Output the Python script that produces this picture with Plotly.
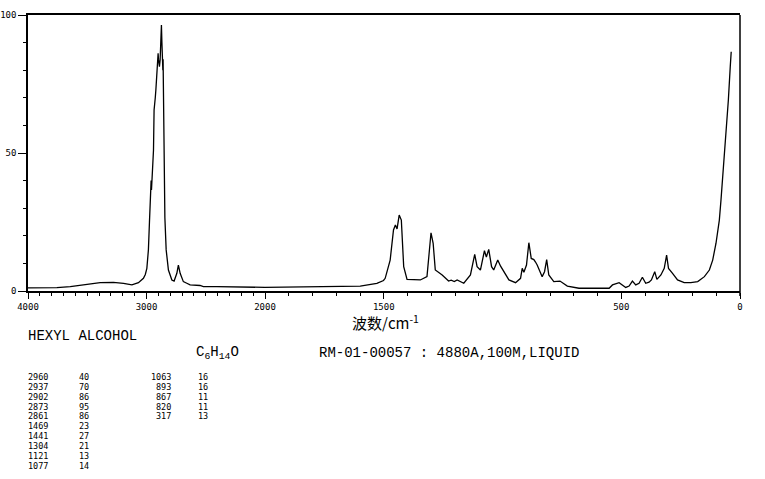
import plotly.graph_objects as go

# ---- spectrum values (wavenumber cm-1, intensity %) ----
wavenumber = [4000, 3756, 3643, 3503, 3391, 3279, 3194, 3123, 3068, 3026, 3010, 2997, 2984,
              2975, 2969, 2965, 2961, 2958, 2955, 2950, 2941, 2936, 2933, 2930, 2926, 2921,
              2913, 2908, 2902, 2899, 2891, 2885, 2879, 2874, 2870, 2868, 2865, 2862, 2860,
              2857, 2851, 2845, 2834, 2815, 2786, 2767, 2744, 2731, 2716, 2689, 2660, 2632,
              2548, 2520, 2407, 2211, 2042, 2000,
              1712, 1599, 1529, 1501, 1494, 1473, 1459, 1451, 1444, 1440, 1435, 1426, 1416,
              1402, 1346, 1318, 1307, 1301, 1292, 1283, 1254, 1227, 1216, 1203, 1191, 1163,
              1135, 1117, 1107, 1093, 1076, 1068, 1058, 1046, 1037, 1020, 1008, 997, 973,
              945, 924, 917, 910, 899, 889, 879, 868, 861, 854, 833, 823, 814, 805, 784, 758,
              727, 678, 551, 537, 509, 481, 467, 453, 439, 425, 411, 397, 383, 373, 359, 350,
              333, 319, 309, 301, 284, 263, 235, 207, 178, 150, 129, 115, 101, 87, 80, 69,
              59, 49, 41, 37]
intensity = [1.1, 1.2, 1.6, 2.3, 3.0, 3.1, 2.8, 2.2, 3.0, 4.6, 6.0, 8.2, 14.9,
             25.0, 33.0, 36.0, 40.0, 36.6, 39.0, 45.0, 51.0, 65.6, 69.0, 67.4, 70.0, 72.8,
             80.0, 82.4, 86.1, 84.0, 81.3, 83.7, 89.7, 96.4, 90.0, 88.5, 82.0, 80.0, 84.0,
             70.4, 41.4, 26.6, 14.9, 7.6, 4.0, 3.6, 6.4, 9.4, 6.4, 3.4, 2.8, 2.2,
             2.0, 1.6, 1.6, 1.5, 1.3, 1.3,
             1.8, 1.8, 2.8, 3.8, 4.6, 11.2, 22.1, 23.9, 22.5, 25.7, 27.5, 25.7, 8.8,
             4.2, 4.0, 5.2, 14.9, 21.1, 17.3, 7.6, 5.8, 3.6, 3.9, 3.4, 4.0, 2.8,
             5.8, 13.3, 8.8, 7.6, 14.6, 12.3, 15.1, 8.8, 7.6, 11.2, 9.0, 7.4, 4.0,
             3.0, 4.6, 8.2, 6.8, 9.4, 17.5, 11.8, 11.4, 10.5, 9.4, 5.2, 7.0, 11.4, 5.8, 3.4, 3.6,
             1.8, 1.0, 1.0, 2.2, 3.0, 1.3, 1.8, 3.6, 2.2, 2.8, 5.0, 2.8, 3.2, 4.0, 7.0, 4.2,
             5.8, 8.2, 13.0, 8.2, 6.4, 4.0, 3.0, 3.0, 3.4, 5.2, 7.6, 11.2, 17.3, 25.7, 33.0, 45.0,
             57.1, 69.2, 81.3, 86.7]

# ---- axis ticks ----
x_hi_ticks = [4000, 3000, 2000]
x_lo_ticks = [1500, 500, 0]
y_ticks = [0, 50, 100]

# ---- peak table ----
peak_wn_1 = [2960, 2937, 2902, 2873, 2861, 1469, 1441, 1304, 1121, 1077]
peak_int_1 = [40, 70, 86, 95, 86, 23, 27, 21, 13, 14]
peak_wn_2 = [1063, 893, 867, 820, 317]
peak_int_2 = [16, 16, 11, 11, 13]

compound = "HEXYL ALCOHOL"
formula = "C<sub>6</sub>H<sub>14</sub>O"
info = "RM-01-00057 : 4880A,100M,LIQUID"
x_title = "波数/cm<sup>-1</sup>"

# ---- geometry (pixels) ----
W, H = 765, 479
L, R, T, B = 28, 740, 15, 291
split = 265  # pixel where 2000 cm-1 sits (scale change)
dom_split = (split - L) / (R - L)


def px(x):
    return (x - L) / (R - L)


def py(y):
    return (B - y) / (B - T)


hi_x = [w for w in wavenumber if w >= 2000]
hi_y = [v for w, v in zip(wavenumber, intensity) if w >= 2000]
lo_x = [w for w in wavenumber if w <= 2000]
lo_y = [v for w, v in zip(wavenumber, intensity) if w <= 2000]

fig = go.Figure()
line = dict(color="black", width=1.3)
fig.add_trace(go.Scatter(x=hi_x, y=hi_y, mode="lines", line=line, xaxis="x", yaxis="y",
                         showlegend=False, hoverinfo="skip", cliponaxis=False))
fig.add_trace(go.Scatter(x=lo_x, y=lo_y, mode="lines", line=line, xaxis="x2", yaxis="y",
                         showlegend=False, hoverinfo="skip", cliponaxis=False))

tickfont = dict(family="DejaVu Sans Mono", size=9, color="black")
common_x = dict(showgrid=False, zeroline=False, showline=True, linecolor="black", linewidth=1.5,
                mirror=True, ticks="outside", ticklen=6, tickwidth=1.2, tickcolor="black",
                tickfont=tickfont, anchor="y", automargin=False,
                minor=dict(dtick=100, ticks="outside", ticklen=3, tickwidth=1, tickcolor="black"))

fig.update_layout(
    width=W, height=H,
    margin=dict(l=L, r=W - R, t=T, b=H - B, pad=0),
    paper_bgcolor="white", plot_bgcolor="white",
    xaxis=dict(domain=[0, dom_split], range=[4000, 2000], tickvals=x_hi_ticks,
               ticktext=[str(t) for t in x_hi_ticks], tick0=4000, **common_x),
    xaxis2=dict(domain=[dom_split, 1], range=[2000, 0], tickvals=x_lo_ticks,
                ticktext=[str(t) for t in x_lo_ticks], tick0=2000, **common_x),
    yaxis=dict(range=[0, 100], tickvals=y_ticks, ticktext=[str(t) for t in y_ticks],
               showgrid=False, zeroline=False, showline=True, linecolor="black", linewidth=1.5,
               ticks="outside", ticklen=8, tickwidth=1.2, tickcolor="black", tickfont=tickfont,
               anchor="x", automargin=False,
               minor=dict(dtick=10, ticks="outside", ticklen=3, tickwidth=1, tickcolor="black")),
)

# right border of the frame
fig.add_shape(type="line", xref="paper", yref="paper", x0=1, x1=1, y0=py(296), y1=1,
              line=dict(color="black", width=1.5))

ann = []
ann.append(dict(text=x_title, x=px(386), y=py(322), xanchor="center", yanchor="middle",
                font=dict(family="Noto Sans CJK SC", size=15, color="black")))
hdr = dict(family="Liberation Mono", size=14, color="black")
ann.append(dict(text=compound, x=px(26), y=py(336), xanchor="left", yanchor="middle", font=hdr))
ann.append(dict(text=formula, x=px(194), y=py(353), xanchor="left", yanchor="middle", font=hdr))
ann.append(dict(text=info, x=px(317), y=py(353), xanchor="left", yanchor="middle", font=hdr))

tbl = dict(family="DejaVu Sans Mono", size=8.5, color="black")
row0, dy = 377, 9.85
for i, (w, v) in enumerate(zip(peak_wn_1, peak_int_1)):
    yy = py(row0 + i * dy)
    ann.append(dict(text=str(w), x=px(26), y=yy, xanchor="left", yanchor="middle", font=tbl))
    ann.append(dict(text=str(v), x=px(77), y=yy, xanchor="left", yanchor="middle", font=tbl))
for i, (w, v) in enumerate(zip(peak_wn_2, peak_int_2)):
    yy = py(row0 + i * dy)
    ann.append(dict(text=str(w), x=px(173), y=yy, xanchor="right", yanchor="middle", font=tbl))
    ann.append(dict(text=str(v), x=px(196), y=yy, xanchor="left", yanchor="middle", font=tbl))

for a in ann:
    a.update(xref="paper", yref="paper", showarrow=False)
fig.update_layout(annotations=ann)

# remove the browser's default 8px body margin so the figure sits at the page corner
fig.write_html("out.html", config={"displayModeBar": False},
               post_script="document.body.style.margin='0';")
